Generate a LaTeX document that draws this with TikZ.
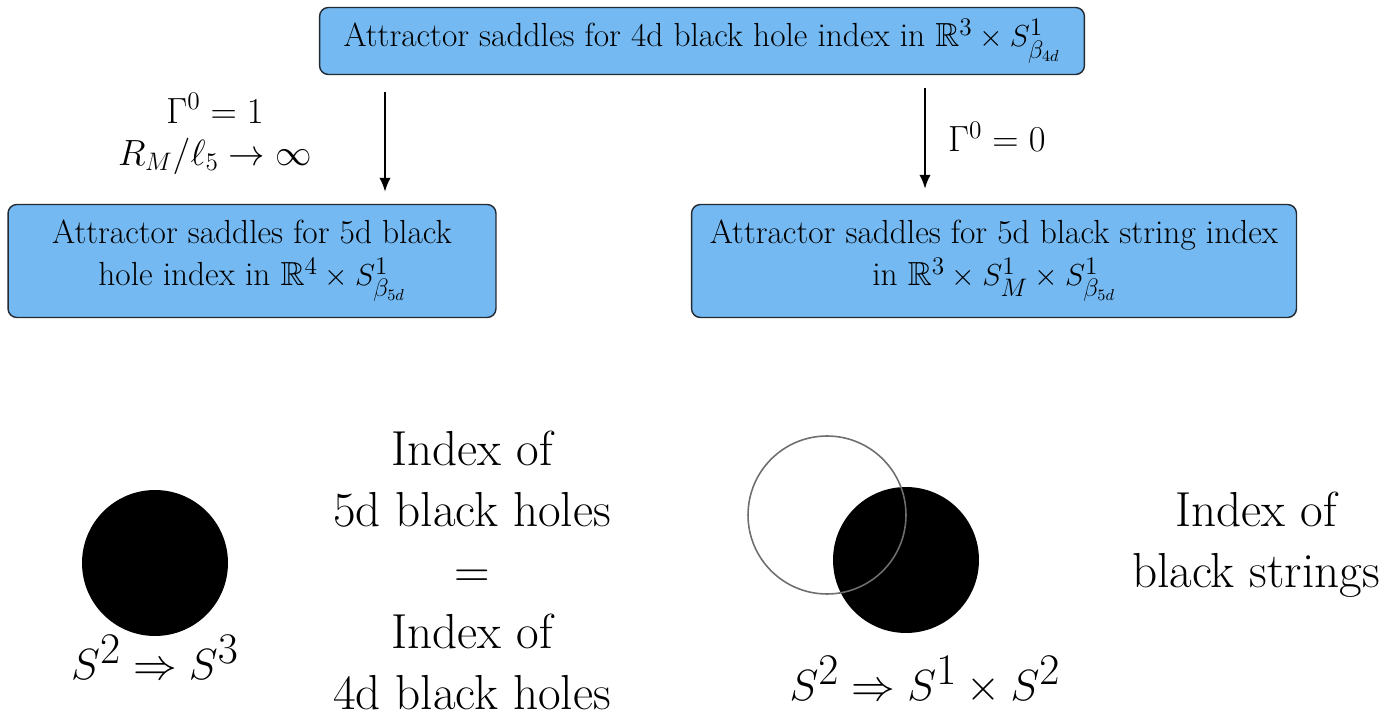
\documentclass[tikz,border=0pt]{standalone}
\usepackage{amsmath,amssymb}
\usepackage{xcolor}
\usepackage{tikz}
\usetikzlibrary{arrows.meta,positioning,calc}
\definecolor{cBox}{HTML}{74B9F2}
\definecolor{cEdge}{HTML}{222B33}
\definecolor{cRing}{HTML}{6E6E6E}
\tikzset{
  sbox/.style={draw=cEdge,fill=cBox,rounded corners=5pt,line width=0.8pt,align=center,
    font=\fontsize{19}{23.5}\selectfont,inner sep=4pt,text=black},
  arr/.style={-{Latex[length=8pt,width=6.5pt]},line width=1.1pt,color=black},
  lbl/.style={font=\fontsize{19.3}{24}\selectfont,align=center,inner sep=1pt},
  big/.style={font=\fontsize{28}{34.7}\selectfont,align=center,inner sep=0pt},
  eqn/.style={font=\fontsize{34}{40}\selectfont,inner sep=0pt},
}

\begin{document}
\begin{tikzpicture}[x=0.02cm,y=-0.02cm]
  \useasboundingbox (0,0) rectangle (1383,719);
  % boxes (pixel grid of the slide)
  \node[sbox,minimum width=15.3cm,minimum height=1.34cm] (bh4) at (702,41)
    {Attractor saddles for 4d black hole index in $\mathbb{R}^3\times S^1_{\beta_{4d}}$};
  \node[sbox,minimum width=9.76cm,minimum height=2.26cm] (bh5) at (252,261)
    {Attractor saddles for 5d black\\ hole index in $\mathbb{R}^4\times S^1_{\beta_{5d}}$};
  \node[sbox,minimum width=12.1cm,minimum height=2.26cm] (bs5) at (994,261)
    {Attractor saddles for 5d black string index\\ in $\mathbb{R}^3\times S^1_M\times S^1_{\beta_{5d}}$};
  \coordinate (colL) at (385,0);
  \coordinate (colR) at (925,0);
  \draw[arr] ([yshift=-0.34cm]bh4.south -| colL) -- ([yshift=0.24cm]bh5.north -| colL);
  \draw[arr] ([yshift=-0.26cm]bh4.south -| colR) -- ([yshift=0.30cm]bs5.north -| colR);
  \node[lbl] (limL) at (215,134) {$\Gamma^0=1$\\ $R_M/\ell_5\to\infty$};
  \node[lbl,anchor=west] (limR) at (946,137) {$\Gamma^0=0$};

  % bottom: horizons
  \node[circle,fill=black,minimum size=2.92cm,inner sep=0pt] (ball) at (155,563) {};
  \node[eqn] (topoL) at (155,657) {$S^2\Rightarrow S^3$};
  \node[big] (same) at (472,570) {Index of\\ 5d black holes\\ =\\ Index of\\ 4d black holes};
  \node[circle,fill=black,minimum size=2.92cm,inner sep=0pt] (disk) at (906,560) {};
  \node[circle,draw=cRing,line width=0.9pt,minimum size=3.16cm,inner sep=0pt] (ring) at (827,515) {};
  \node[eqn] (topoR) at (925,680) {$S^2\Rightarrow S^1\times S^2$};
  \node[big] (strings) at (1256,545) {Index of\\ black strings};
\end{tikzpicture}
\end{document}
